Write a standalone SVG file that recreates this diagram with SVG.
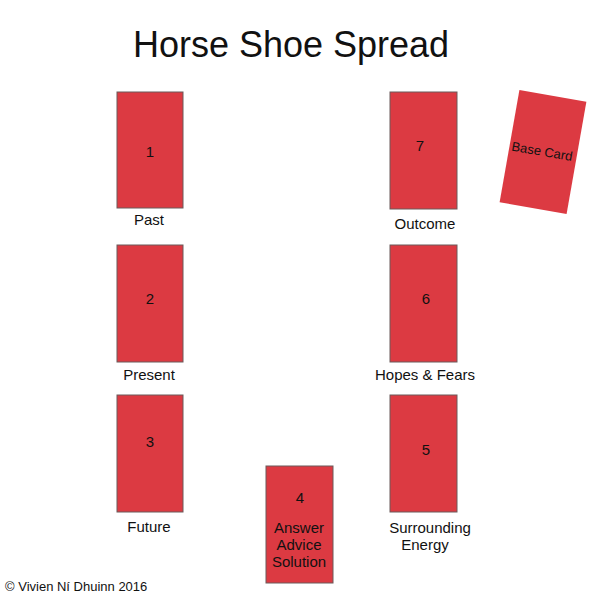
<svg xmlns="http://www.w3.org/2000/svg" width="600" height="600" viewBox="0 0 600 600">
<style>
.card{fill:#dc3a42;stroke:#6b5a5a;stroke-width:1}
.t{font-family:"Liberation Sans",Arial,sans-serif;font-size:15px;fill:#111;text-anchor:middle}
.n{font-family:"Liberation Sans",Arial,sans-serif;font-size:15px;fill:#111;text-anchor:middle}
</style>
<rect width="600" height="600" fill="#fff"/>
<text x="291" y="57" font-family="Liberation Sans,Arial,sans-serif" font-size="36" text-anchor="middle" fill="#111">Horse Shoe Spread</text>
<g id="card1"><rect class="card" x="117" y="92" width="66" height="116"/><text class="n" x="150" y="157">1</text><text class="t" x="149" y="225">Past</text></g>
<g id="card2"><rect class="card" x="117" y="245" width="66" height="117"/><text class="n" x="150" y="304">2</text><text class="t" x="149" y="380">Present</text></g>
<g id="card3"><rect class="card" x="117" y="395" width="66" height="117"/><text class="n" x="150" y="447">3</text><text class="t" x="149" y="532">Future</text></g>
<g id="card4"><rect class="card" x="266" y="466" width="67" height="117"/><text class="n" x="300" y="503">4</text><text class="t" x="299" y="533">Answer</text><text class="t" x="299" y="550">Advice</text><text class="t" x="299" y="567">Solution</text></g>
<g id="card5"><rect class="card" x="390" y="395" width="67" height="117"/><text class="n" x="426" y="455">5</text><text class="t" x="430" y="533">Surrounding</text><text class="t" x="425" y="550">Energy</text></g>
<g id="card6"><rect class="card" x="390" y="245" width="67" height="117"/><text class="n" x="426" y="304">6</text><text class="t" x="425" y="380">Hopes &amp; Fears</text></g>
<g id="card7"><rect class="card" x="390" y="92" width="67" height="117"/><text class="n" x="420" y="151">7</text><text class="t" x="425" y="229">Outcome</text></g>
<g id="basecard" transform="rotate(10 543 152)"><rect x="509" y="95" width="68" height="114" fill="#dc3a42"/><text class="t" x="542" y="156" style="font-size:13px">Base Card</text></g>
<g id="connectors"></g>
<text x="5" y="591" font-family="Liberation Sans,Arial,sans-serif" font-size="13" fill="#111">© Vivien Ní Dhuinn 2016</text>
</svg>
